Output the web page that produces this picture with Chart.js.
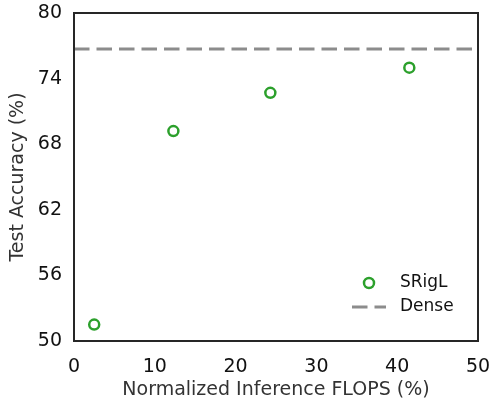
<!DOCTYPE html>
<html>
<head>
<meta charset="utf-8">
<script src="https://cdn.jsdelivr.net/npm/chart.js@4.4.0/dist/chart.umd.min.js"></script>
<style>
  html, body { margin: 0; padding: 0; background: #fff; }
  #wrap { width: 492px; height: 400px; }
</style>
</head>
<body>
<div id="wrap"><canvas id="flopsChart" width="492" height="400"></canvas></div>
<script>
// data
var srigFlops = [2.5, 12.3, 24.3, 41.5];
var srigAcc = [51.5, 69.2, 72.7, 75.0];
var denseAcc = 76.7;
var xTicks = [0, 10, 20, 30, 40, 50];
var yTicks = [50, 56, 62, 68, 74, 80];

var FONT = "'DejaVu Sans', sans-serif";

// frame around the plot area + legend in lower right
var framePlugin = {
    id: 'frame',
    afterDatasetsDraw: function(chart) {
        var a = chart.chartArea, ctx = chart.ctx;
        ctx.save();
        ctx.strokeStyle = '#262626';
        ctx.lineWidth = 2;
        ctx.strokeRect(a.left, a.top, a.right - a.left, a.bottom - a.top);

        var ds = chart.data.datasets;
        var lx = a.right - 126, ly = a.bottom - 58;
        ctx.font = '17px ' + FONT;
        ctx.fillStyle = '#111';
        ctx.textBaseline = 'middle';

        // SRigL marker
        ctx.beginPath();
        ctx.arc(lx + 17, ly, ds[0].pointRadius, 0, Math.PI * 2);
        ctx.strokeStyle = ds[0].borderColor;
        ctx.lineWidth = ds[0].pointBorderWidth;
        ctx.stroke();
        ctx.fillText(ds[0].label, lx + 48, ly);

        // Dense line
        ctx.beginPath();
        ctx.setLineDash(ds[1].borderDash);
        ctx.strokeStyle = ds[1].borderColor;
        ctx.lineWidth = ds[1].borderWidth;
        ctx.moveTo(lx, ly + 24);
        ctx.lineTo(lx + 34, ly + 24);
        ctx.stroke();
        ctx.setLineDash([]);
        ctx.fillText(ds[1].label, lx + 48, ly + 24);
        ctx.restore();
    }
};

// keep tick labels from pushing the plot area around
function noOverflow(s) {
    s.paddingTop = 0; s.paddingBottom = 0;
    s.paddingLeft = 0; s.paddingRight = 0;
}

var ctx = document.getElementById('flopsChart');
var flopsChart = new Chart(ctx, {
    type: 'scatter',
    data: {
        datasets: [
            {
                label: 'SRigL',
                data: srigFlops.map(function(x, i) { return {x: x, y: srigAcc[i]}; }),
                borderColor: '#2ca02c',
                backgroundColor: 'rgba(0,0,0,0)',
                pointRadius: 5,
                pointBorderWidth: 2.5,
                showLine: false
            },
            {
                label: 'Dense',
                type: 'line',
                data: [{x: xTicks[0], y: denseAcc}, {x: xTicks[xTicks.length - 1], y: denseAcc}],
                borderColor: '#8c8c8c',
                borderWidth: 3,
                borderDash: [15.5, 7],
                pointRadius: 0,
                fill: false
            }
        ]
    },
    options: {
        responsive: false,
        animation: false,
        layout: { padding: { left: 0, top: 13, right: 14, bottom: 0 } },
        plugins: {
            legend: { display: false },
            tooltip: { enabled: false }
        },
        scales: {
            x: {
                type: 'linear',
                min: 0, max: 50,
                afterBuildTicks: function(s) { s.ticks = xTicks.map(function(v) { return {value: v}; }); },
                afterFit: function(s) { s.height = 59; noOverflow(s); },
                grid: { display: false, drawTicks: false },
                border: { display: false },
                ticks: { color: '#111', padding: 15, font: { family: FONT, size: 19 }, maxRotation: 0 },
                title: {
                    display: true,
                    text: 'Normalized Inference FLOPS (%)',
                    color: '#333',
                    font: { family: FONT, size: 19, lineHeight: 1.0 },
                    padding: { top: 0, bottom: 0 }
                }
            },
            y: {
                type: 'linear',
                min: 50, max: 80,
                afterBuildTicks: function(s) { s.ticks = yTicks.map(function(v) { return {value: v}; }); },
                afterFit: function(s) { s.width = 74; noOverflow(s); },
                grid: { display: false, drawTicks: false },
                border: { display: false },
                ticks: { color: '#111', padding: 12, font: { family: FONT, size: 19 } },
                title: {
                    display: true,
                    text: 'Test Accuracy (%)',
                    color: '#333',
                    font: { family: FONT, size: 19 },
                    padding: { top: 7, bottom: 0 }
                }
            }
        }
    },
    plugins: [framePlugin]
});
</script>
</body>
</html>
